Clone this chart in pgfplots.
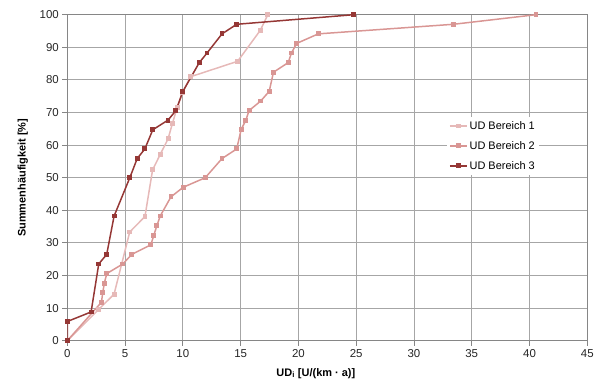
\documentclass[border=0pt]{standalone}
\usepackage{pgfplots}
\pgfplotsset{compat=1.18}
\usepackage{fontspec}
\setmainfont{Liberation Sans}
\definecolor{sA}{HTML}{E6B9B8}
\definecolor{sB}{HTML}{D99694}
\definecolor{sC}{HTML}{953735}
\definecolor{gridc}{HTML}{A6A6A6}
\definecolor{framec}{HTML}{868686}
\begin{document}
\begin{tikzpicture}
\begin{axis}[
  scale only axis,
  width=520bp, height=326bp,
  xmin=0, xmax=45, ymin=0, ymax=100,
  xtick={0,5,...,45}, ytick={0,10,...,100},
  grid=major,
  major grid style={gridc, line width=0.9pt},
  axis line style={framec, line width=0.9pt},
  tick style={framec, line width=0.9pt},
  tick align=outside, major tick length=5bp,
  tick pos=left,
  /pgf/number format/assume math mode=true,
  ticklabel style={font=\fontsize{11.5}{13}\selectfont, text=black!85},
  xlabel={\textbf{UD\textsubscript{i} [U/(km · a)]}},
  ylabel={\textbf{Summenhäufigkeit [\%]}},
  label style={font=\fontsize{11}{13}\selectfont},
  xlabel style={at={(axis description cs:0.478,0)}, anchor=north, yshift=-24bp},
  ylabel style={yshift=5bp},
  legend style={draw=none, fill=white, at={(rel axis cs:0.73,0.686)}, anchor=north west,
    font=\fontsize{11}{13}\selectfont, row sep=6.5bp, inner sep=2bp},
  legend cell align=left,
  every axis plot/.append style={line width=1.5pt, mark=square*, mark size=1.7bp},
]
\addplot[sA, mark options={fill=sA, draw=sA}] coordinates {
(0,0) (2.7,9.52) (4.05,14.29) (5.4,33.33) (6.72,38.10) (7.38,52.38) (8.04,57.14) (8.72,61.90)
(9.1,66.67) (9.5,71.43) (10.0,76.19) (10.65,80.95) (14.74,85.71) (16.71,95.24) (17.35,100)};
\addlegendentry{UD Bereich 1}
\addplot[sB, mark options={fill=sB, draw=sB}] coordinates {
(0,0) (2.95,11.76) (3.07,14.71) (3.2,17.65) (3.42,20.59) (4.8,23.53) (5.58,26.47) (7.23,29.41)
(7.49,32.35) (7.75,35.29) (8.04,38.24) (8.97,44.12) (10.03,47.06) (11.94,50.0) (13.39,55.88)
(14.66,58.82) (15.04,64.71) (15.45,67.65) (15.73,70.59) (16.74,73.53) (17.47,76.47) (17.84,82.35)
(19.11,85.29) (19.4,88.24) (19.84,91.18) (21.72,94.12) (33.42,97.06) (40.56,100)};
\addlegendentry{UD Bereich 2}
\addplot[sC, mark options={fill=sC, draw=sC}] coordinates {
(0,0) (0,5.88) (2.06,8.82) (2.72,23.53) (3.41,26.47) (4.05,38.24) (5.41,50) (6.05,55.88)
(6.71,58.82) (7.4,64.71) (8.71,67.65) (9.4,70.59) (10.0,76.47) (11.42,85.29) (12.09,88.24)
(13.39,94.12) (14.66,97.06) (24.78,100)};
\addlegendentry{UD Bereich 3}
\end{axis}
\pgfresetboundingbox
\path[use as bounding box] (current axis.south west) ++(-67.3bp,-46.3bp) rectangle ++(601bp,387bp);
\end{tikzpicture}
\end{document}
